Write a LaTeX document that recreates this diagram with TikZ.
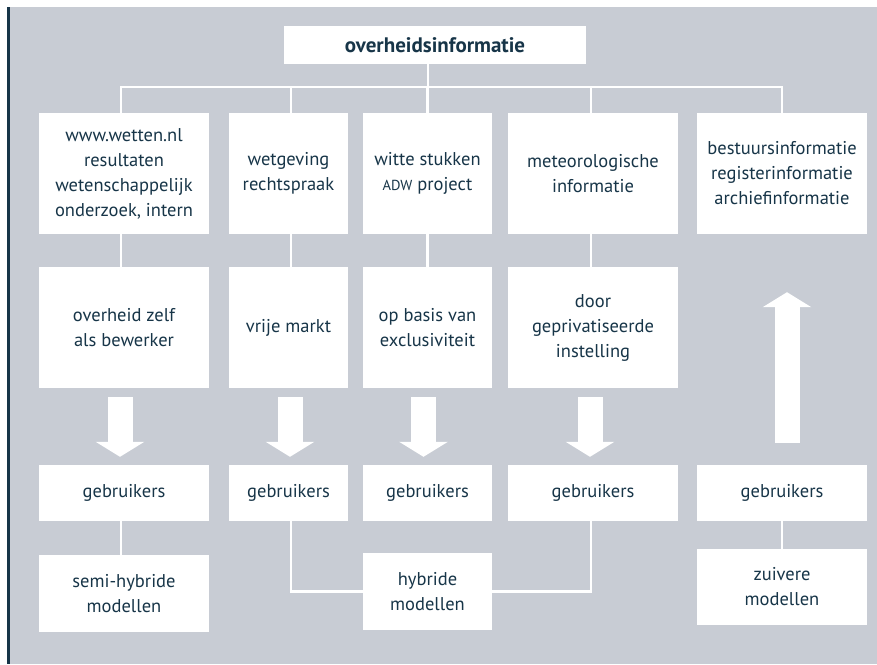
\documentclass[tikz,border=0pt]{standalone}
\usepackage{fontspec}
\setmainfont{PT Sans}
\usetikzlibrary{arrows.meta}
\definecolor{bg}{HTML}{C8CCD4}
\definecolor{ink}{HTML}{173548}
\tikzset{
  box/.style={fill=white, draw=none, text=ink, align=center, inner sep=0pt,
    font=\fontsize{18.5}{25}\selectfont},
  conn/.style={draw=white, line width=2.5pt},
  blockarrow/.style={draw=white, line width=25pt,
    -{Triangle[width=48pt,length=15pt]}}
}
\newcommand{\smallcapsADW}{{\fontsize{14.5}{25}\selectfont ADW}}
\begin{document}
\begin{tikzpicture}[x=1pt,y=-1pt]
\useasboundingbox (0,0) rectangle (877,664);
\fill[bg] (8,7) rectangle (877,664);
\fill[ink] (7,7) rectangle (9.5,664);

% top
\node[box, minimum width=302pt, minimum height=38pt, font=\fontsize{21}{25}\selectfont\bfseries] (top) at (435,45) {overheidsinformatie};

% row 1
\node[box, minimum width=170pt, minimum height=121pt] (a1) at (124,173.5) {www.wetten.nl\\resultaten\\wetenschappelijk\\onderzoek, intern};
\node[box, minimum width=119pt, minimum height=121pt] (a2) at (288.5,173.5) {wetgeving\\rechtspraak};
\node[box, minimum width=129pt, minimum height=121pt] (a3) at (427.5,173.5) {witte stukken\\\smallcapsADW{} project};
\node[box, minimum width=170pt, minimum height=121pt] (a4) at (593,173.5) {meteorologische\\informatie};
\node[box, minimum width=170pt, minimum height=121pt] (a5) at (782,173.5) {bestuursinformatie\\registerinformatie\\archiefinformatie};

% row 2
\node[box, minimum width=170pt, minimum height=121pt] (b1) at (124,327.5) {overheid zelf\\als bewerker};
\node[box, minimum width=119pt, minimum height=121pt] (b2) at (288.5,327.5) {vrije markt};
\node[box, minimum width=129pt, minimum height=121pt] (b3) at (427.5,327.5) {op basis van\\exclusiviteit};
\node[box, minimum width=170pt, minimum height=121pt] (b4) at (593,327.5) {door\\geprivatiseerde\\instelling};

% row 3
\node[box, minimum width=170pt, minimum height=56pt] (c1) at (124,493) {gebruikers};
\node[box, minimum width=119pt, minimum height=56pt] (c2) at (288.5,493) {gebruikers};
\node[box, minimum width=129pt, minimum height=56pt] (c3) at (427.5,493) {gebruikers};
\node[box, minimum width=170pt, minimum height=56pt] (c4) at (593,493) {gebruikers};
\node[box, minimum width=170pt, minimum height=56pt] (c5) at (782,493) {gebruikers};

% row 4
\node[box, minimum width=170pt, minimum height=77pt] (semi) at (124,593.5) {semi-hybride\\modellen};
\node[box, minimum width=129pt, minimum height=77pt] (hyb) at (427.5,591.5) {hybride\\modellen};
\node[box, minimum width=170pt, minimum height=76pt] (zuiv) at (782,587) {zuivere\\modellen};

% tree connectors
\coordinate (bar) at (0,87);
\draw[conn] (top.south -| 428,0) -- (428,87);
\draw[conn] (a1.north -| 121,0) |- (a5.north |- bar) -- (a5.north);
\draw[conn] (a2.north -| 291,0) -- (291,87);
\draw[conn] (a3.north) -- (a3.north |- bar);
\draw[conn] (a4.north -| 591,0) -- (591,87);

% row1 -> row2
\draw[conn] (a1.south -| 121,0) -- (b1.north -| 121,0);
\draw[conn] (a2.south -| 291,0) -- (b2.north -| 291,0);
\draw[conn] (a3.south) -- (b3.north);
\draw[conn] (a4.south -| 591,0) -- (b4.north -| 591,0);

% block arrows
\draw[blockarrow, shorten <=9pt, shorten >=8pt] ([xshift=-4pt]b1.south) -- ([xshift=-4pt]c1.north);
\draw[blockarrow, shorten <=9pt, shorten >=8pt] ([xshift=1.5pt]b2.south) -- ([xshift=1.5pt]c2.north);
\draw[blockarrow, shorten <=9pt, shorten >=8pt] ([xshift=-4pt]b3.south) -- ([xshift=-4pt]c3.north);
\draw[blockarrow, shorten <=9pt, shorten >=8pt] ([xshift=-3pt]b4.south) -- ([xshift=-3pt]c4.north);
\draw[blockarrow, shorten <=22pt, shorten >=58pt] ([xshift=5pt]c5.north) -- ([xshift=5pt]a5.south);

% bottom connectors
\draw[conn] (c1.south -| 121,0) -- (semi.north -| 121,0);
\draw[conn] (c2.south -| 291,0) |- (hyb.west);
\draw[conn] (c4.south -| 591,0) |- (hyb.east);
\draw[conn] (c5.south) -- (zuiv.north);
\end{tikzpicture}
\end{document}
